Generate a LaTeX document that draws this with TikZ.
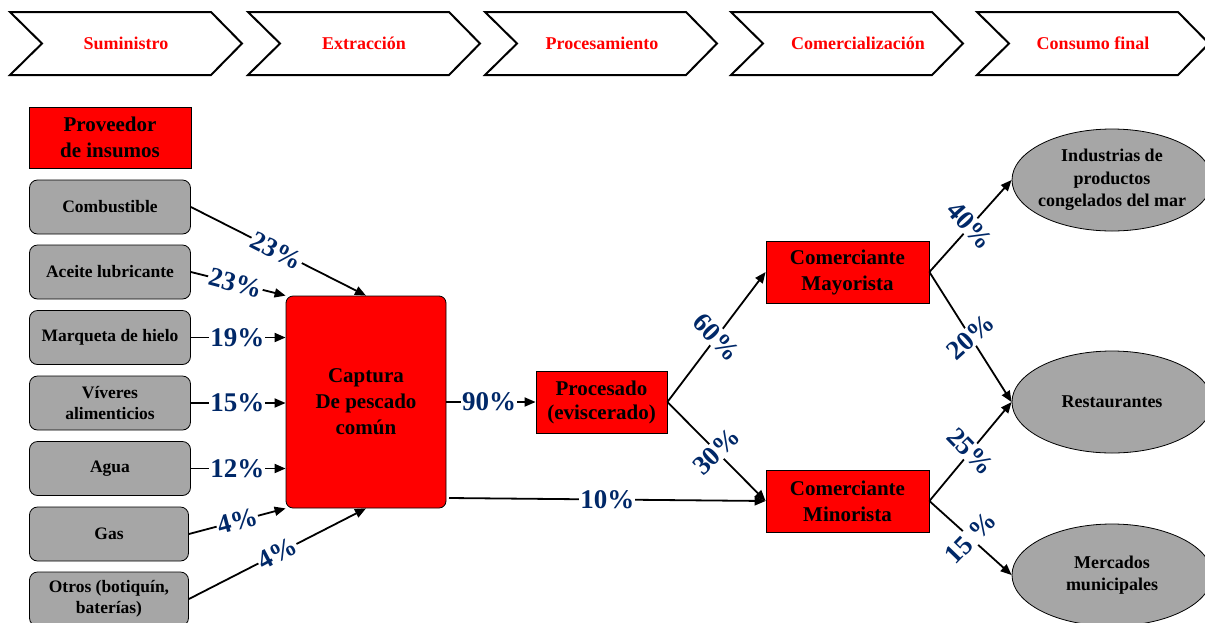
\documentclass[tikz,border=0pt]{standalone}
\usepackage{fontspec}
\setmainfont{Liberation Serif}
\usetikzlibrary{arrows.meta,shapes.geometric}
\definecolor{navy}{RGB}{0,40,104}
\definecolor{grayfill}{RGB}{166,166,166}
\begin{document}
\begin{tikzpicture}[x=1pt,y=-1pt,
  chev/.style={draw=black, line width=2pt, line join=miter},
  hdr/.style={text=red, font=\bfseries\fontsize{18}{20}\selectfont},
  redbox/.style={draw=black, line width=0.8pt, fill=red, align=center, inner sep=0pt,
     font=\bfseries\fontsize{21}{26}\selectfont},
  graybox/.style={draw=black, line width=0.8pt, fill=grayfill, rounded corners=8pt, align=center,
     minimum width=161pt, minimum height=54pt, inner sep=0pt,
     font=\bfseries\fontsize{17.5}{22}\selectfont},
  ell/.style={ellipse, draw=black, line width=0.8pt, fill=grayfill, align=center,
     inner xsep=-40pt, inner ysep=-20pt,
     minimum width=200pt, minimum height=102pt, font=\bfseries\fontsize{18}{22.5}\selectfont},
  arr/.style={draw=black, line width=1.8pt, -{Triangle[length=11pt,width=9pt]}},
  pct/.style={fill=white, inner sep=1pt, text=navy, font=\bfseries\fontsize{27}{27}\selectfont}
]
\useasboundingbox (0,0) rectangle (1205,622);
\clip (0,0) rectangle (1205,622);
\fill[white] (0,0) rectangle (1205,622);

% header chevrons
\foreach \L/\t/\n/\dx in {10/Suministro/h1/116, 248/Extracción/h2/116, 485/Procesamiento/h3/117, 731/Comercialización/h4/127, 977/Consumo final/h5/116}{
  \draw[chev] (\L,12) -- (\L+201,12) -- (\L+232,43.5) -- (\L+201,75) -- (\L,75) -- (\L+32,43.5) -- cycle;
  \node[hdr] (\n) at (\L+\dx,43.5) {\t};
}

% left column
\node[redbox, minimum width=162pt, minimum height=61pt] (prov) at (110,137.5) {Proveedor\\de insumos};
\node[graybox] (comb) at (110,207) {Combustible};
\node[graybox] (acei) at (110,272) {Aceite lubricante};
\node[graybox] (marq) at (110,337.5) {Marqueta de hielo};
\node[graybox] (vive) at (110,403) {Víveres\\[-1pt]alimenticios};
\node[graybox] (agua) at (110,468.5) {Agua};
\node[graybox, minimum width=159pt] (gas) at (109,534) {Gas};
\node[graybox, minimum width=159pt] (otro) at (109,599) {Otros (botiquín,\\[-1pt]baterías)};

% centre
\node[redbox, rounded corners=7pt, minimum width=160pt, minimum height=212pt] (cap) at (366,402) {Captura\\De pescado\\común};
\node[redbox, minimum width=131pt, minimum height=62pt, font=\bfseries\fontsize{21}{24}\selectfont] (proc) at (601.5,402) {Procesado\\(eviscerado)};
\node[redbox, minimum width=163pt, minimum height=62pt] (may) at (847.5,272) {Comerciante\\Mayorista};
\node[redbox, minimum width=163pt, minimum height=62pt] (min) at (847.5,501) {Comerciante\\Minorista};

% right ellipses
\node[ell] (ind) at (1112,180) {Industrias de\\productos\\congelados del mar};
\node[ell] (rest) at (1112,402) {Restaurantes};
\node[ell] (merc) at (1112,575) {Mercados\\municipales};

% inputs to captura
\draw[arr] (comb.east) -- node[pct, rotate=-27, pos=0.49] {23\%} (cap.north);
\draw[arr] (acei.east) -- node[pct, rotate=-15, pos=0.47] {23\%} (cap.north west);
\draw[arr] (marq.east) -- node[pct, pos=0.49] {19\%} (marq.east -| cap.west);
\draw[arr] (vive.east) -- node[pct, pos=0.49] {15\%} (vive.east -| cap.west);
\draw[arr] (agua.east) -- node[pct, pos=0.49] {12\%} (agua.east -| cap.west);
\draw[arr] (gas.east) -- node[pct, rotate=15, pos=0.5] {4\%} (cap.south west);
\draw[arr] (otro.east) -- node[pct, rotate=28, pos=0.5] {4\%} (cap.south);

% flows
\coordinate (c10) at (449,498);
\draw[arr] (cap.east) -- node[pct, pos=0.48] {90\%} (proc.west);
\draw[arr] (c10) -- node[pct, pos=0.5] {10\%} (min.west);
\draw[arr] (proc.east) -- node[pct, rotate=-47, pos=0.5] {60\%} (may.west);
\draw[arr] (proc.east) -- node[pct, rotate=44, pos=0.5] {30\%} (min.west);

\draw[arr] (may.east) -- node[pct, rotate=-48, pos=0.5] {40\%} (ind.west);
\draw[arr] (may.east) -- node[pct, rotate=42, pos=0.5] {20\%} (rest.west);
\draw[arr] (min.east) -- node[pct, rotate=-46, pos=0.5] {25\%} (rest.west);
\draw[arr] (min.east) -- node[pct, rotate=46, pos=0.5] {15 \%} (merc.west);
\end{tikzpicture}
\end{document}
